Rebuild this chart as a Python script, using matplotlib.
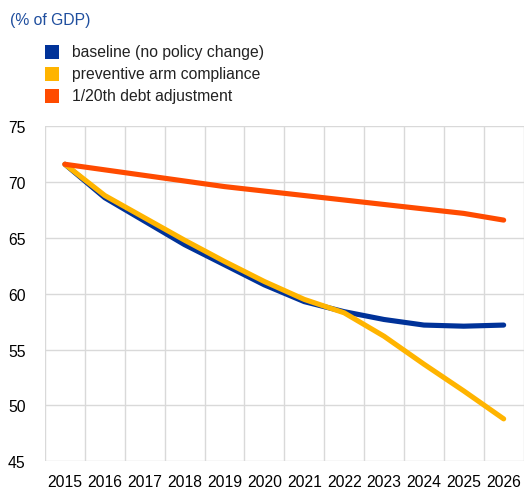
import matplotlib.pyplot as plt
from matplotlib.patches import Rectangle

plt.rcParams['font.family'] = ['Liberation Sans', 'DejaVu Sans']

years = [str(y) for y in range(2015, 2027)]
baseline = [71.6, 68.6, 66.5, 64.4, 62.6, 60.8, 59.3, 58.4, 57.7, 57.2, 57.1, 57.2]
preventive = [71.6, 68.8, 66.8, 64.8, 62.9, 61.1, 59.5, 58.3, 56.2, 53.7, 51.3, 48.8]
debt_rule = [71.6, 71.1, 70.6, 70.1, 69.6, 69.2, 68.8, 68.4, 68.0, 67.6, 67.2, 66.6]

series_names = ['baseline (no policy change)', 'preventive arm compliance', '1/20th debt adjustment']
series_colors = ['#003299', '#FFB400', '#FF4B00']

W, H = 525, 489
fig = plt.figure(figsize=(W / 100, H / 100), dpi=100)
ax = fig.add_axes([45 / W, 1 - 462.3 / H, (523.6 - 45) / W, (462.3 - 127.3) / H])

x = list(range(len(years)))
for vals, col in zip([baseline, preventive, debt_rule], series_colors):
    ax.plot(x, vals, color=col, linewidth=3.7, solid_capstyle='round', solid_joinstyle='round')

ax.set_xlim(-0.5, len(years) - 0.5)
ax.set_ylim(45, 75)
ax.set_yticks(range(45, 80, 5))
ax.set_xticks(x)
ax.set_xticklabels(years)
ax.set_xticks([i - 0.5 for i in range(len(years) + 1)], minor=True)
ax.grid(False)
ax.grid(True, which='minor', axis='x', color='#d9d9d9', linewidth=1)
ax.grid(True, which='major', axis='y', color='#d9d9d9', linewidth=1)
ax.set_axisbelow(True)
for s in ax.spines.values():
    s.set_visible(False)
ax.tick_params(axis='both', which='both', length=0, labelsize=11.3, colors='#000000')
ax.tick_params(axis='y', pad=14)
ax.tick_params(axis='x', pad=9)

fig.text(10 / W, 1 - 20 / H, '(% of GDP)', color='#1F4E9E', fontsize=11.3, va='center', ha='left')

for i, (name, col) in enumerate(zip(series_names, series_colors)):
    cy = 53 + i * 22
    fig.add_artist(Rectangle((45 / W, 1 - (cy + 7) / H), 14 / W, 14 / H,
                             transform=fig.transFigure, facecolor=col, edgecolor='none'))
    fig.text(72 / W, 1 - cy / H, name, fontsize=11.3, va='center', ha='left', color='#222222')

fig.savefig('out.png', dpi=100, facecolor='white')
